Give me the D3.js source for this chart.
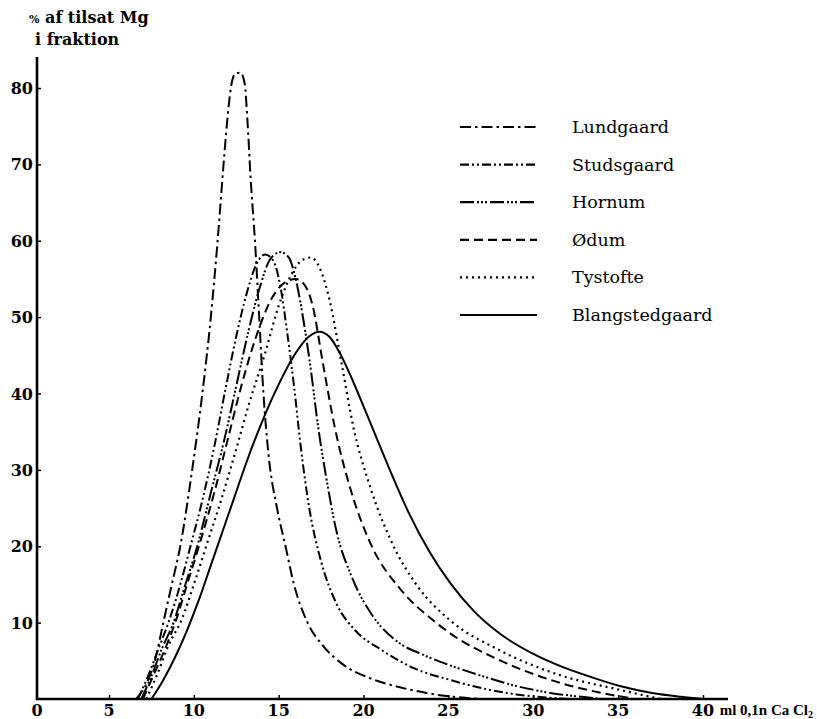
<!DOCTYPE html>
<html><head><meta charset="utf-8">
<script src="https://cdn.jsdelivr.net/npm/d3@7/dist/d3.min.js"></script>
<style>html,body{margin:0;padding:0;background:#fff;}svg{display:block;}</style>
</head><body>
<svg id="c" width="817" height="719"></svg>
<script>
const xTicks = [0,5,10,15,20,25,30,35,40];
const yTicks = [10,20,30,40,50,60,70,80];
const seriesNames = ["Lundgaard","Studsgaard","Hornum","Ødum","Tystofte","Blangstedgaard"];
const lundgaard = [[6.6,0],[7.2,2],[7.7,5],[8.2,10],[8.7,15],[9.2,20],[9.9,30],[10.5,40],[11.0,50],[11.4,60],[11.75,70],[12.0,76.5],[12.2,80.3],[12.45,81.9],[12.75,82],[13.0,80.5],[13.15,76],[13.35,68],[13.6,60],[13.85,50],[14.1,40],[14.4,32],[14.9,25],[15.4,20],[15.9,15],[16.7,10],[17.6,7],[18.8,4.5],[20.3,2.8],[21.5,1.9],[23,1.1],[24.5,0.5],[26,0.15],[27,0]];
const studsgaard = [[6.7,0],[7.3,3],[7.9,6.5],[8.5,10],[9.2,15],[9.8,20],[10.5,26],[11.2,33],[11.9,41],[12.5,47.5],[13.1,53],[13.7,57],[14.2,58.2],[14.7,57.3],[15.1,54],[15.5,48],[15.9,41],[16.3,33],[16.8,25],[17.5,18],[18.4,12.5],[19.5,9],[21,6.5],[23,4],[25.1,2.5],[27,1.4],[29,0.6],[31,0.15],[32,0]];
const hornum = [[6.9,0],[7.5,3],[8.1,6.5],[8.8,10],[9.5,15],[10.2,20],[11.0,27],[11.8,34],[12.5,41],[13.2,48],[13.9,54],[14.5,57.6],[15.1,58.5],[15.6,57.8],[16.0,55],[16.5,49],[16.9,43],[17.3,36],[17.8,29],[18.4,22],[19.3,16],[20.5,11],[22,7.5],[23.5,5.8],[25.1,4.4],[27,3],[29,1.7],[31,0.8],[33,0.25],[34,0]];
const odum = [[7.0,0],[7.6,3],[8.2,6],[8.9,10],[9.6,15],[10.3,20],[11.2,27],[12.0,34],[12.8,41],[13.6,47],[14.6,52.5],[15.4,54.6],[16.0,55],[16.5,54.3],[17.0,51.5],[17.6,44],[18.3,35.6],[19.2,27.7],[20.4,20.4],[22.2,14.3],[24.1,10.3],[25.1,8.6],[28,5.1],[31.6,2.1],[34,0.8],[36,0]];
const tystofte = [[7.2,0],[7.8,3],[8.5,7],[9.3,10.5],[10.0,15],[10.8,20.5],[11.6,26],[12.4,32],[13.3,39],[14.2,45.3],[15.0,51.5],[15.8,55.8],[16.4,57.5],[16.9,57.8],[17.4,56.5],[18.0,52.2],[18.7,44],[19.4,35.6],[20.4,27.7],[21.6,20.8],[23.2,14.7],[25.1,10.3],[28,6.4],[31.6,3.1],[35.1,1.2],[37.5,0]];
const blangstedgaard = [[7.5,0],[8.2,2.5],[8.9,5.5],[9.6,9],[10.3,13],[11.0,17.5],[11.7,22],[12.4,26.5],[13.1,31],[14.0,36.2],[15.0,41.2],[16.0,45.3],[16.8,47.5],[17.4,48.1],[18.0,47.4],[18.6,45.3],[19.3,42],[20.0,38.3],[20.8,34],[21.7,29.2],[22.7,24.2],[23.9,19.2],[25.1,15.2],[26.5,11.5],[28,8.6],[30,5.9],[31.6,4.3],[33.5,2.8],[35.1,1.7],[37,0.8],[38.7,0.3],[40,0]];
const seriesData = [lundgaard,studsgaard,hornum,odum,tystofte,blangstedgaard];
const dashes = ["11,4,2.5,4","9,3,2,3,2,3","14,3,2,2,2,2,2,3","9,5","2,4","none"];

const svg = d3.select("#c");
const x = d3.scaleLinear().domain([0,5,40]).range([37,109,703]);
const y = d3.scaleLinear().domain([0,80]).range([699,88]);
const font = "'DejaVu Serif', 'Liberation Serif', serif";
const font2 = "'Liberation Serif', 'DejaVu Serif', serif";

// axes
svg.append("line").attr("x1",x(0)).attr("x2",x(0)).attr("y1",57).attr("y2",y(0)+1)
  .attr("stroke","#000").attr("stroke-width",2.6);
svg.append("line").attr("x1",x(0)-1).attr("x2",728).attr("y1",y(0)).attr("y2",y(0))
  .attr("stroke","#000").attr("stroke-width",2.4);

const yAxis = d3.axisRight(y).tickValues(yTicks).tickSize(4).tickFormat("");
const gy = svg.append("g").attr("transform",`translate(${x(0)},0)`).call(yAxis);
gy.select(".domain").remove();
gy.selectAll("line").attr("stroke","#000").attr("stroke-width",1.5);
svg.append("g").selectAll("text").data(yTicks).join("text")
  .attr("x",x(0)-4).attr("y",d=>y(d)+6).attr("text-anchor","end")
  .attr("font-family",font).attr("font-size",16).attr("font-weight","bold").text(d=>d);

const xAxis = d3.axisTop(x).tickValues(xTicks.slice(1)).tickSize(4).tickFormat("");
const gx = svg.append("g").attr("transform",`translate(0,${y(0)})`).call(xAxis);
gx.select(".domain").remove();
gx.selectAll("line").attr("stroke","#000").attr("stroke-width",1.5);
svg.append("g").selectAll("text").data(xTicks).join("text")
  .attr("x",d=>x(d)).attr("y",716).attr("text-anchor","middle")
  .attr("font-family",font).attr("font-size",16).attr("font-weight","bold").text(d=>d);

const xl = svg.append("text").attr("x",720).attr("y",715).attr("font-family",font2).attr("font-size",15).attr("font-weight","bold");
xl.append("tspan").text("ml 0,1n Ca Cl");
xl.append("tspan").attr("font-size",10).attr("dy",3).text("2");
const bb = xl.node().getBBox();
if (bb.x + bb.width > 813) xl.attr("x", 720 - (bb.x + bb.width - 813));

// title
const t1 = svg.append("text").attr("x",29).attr("y",23).attr("font-family",font).attr("font-size",16).attr("font-weight","bold");
t1.append("tspan").attr("font-size",11).text("%");
t1.append("tspan").text(" af tilsat Mg");
svg.append("text").attr("x",35).attr("y",45).attr("font-family",font).attr("font-size",16).attr("font-weight","bold").text("i fraktion");

// curves
const line = d3.line().x(d=>x(d[0])).y(d=>y(d[1])).curve(d3.curveMonotoneX);
svg.append("g").selectAll("path").data(seriesData).join("path")
  .attr("d",d=>line(d)).attr("fill","none").attr("stroke","#000")
  .attr("stroke-width",(d,i)=>i===4?2.2:2)
  .attr("stroke-dasharray",(d,i)=>dashes[i]==="none"?null:dashes[i]);

// legend
const lg = svg.append("g");
const legY = d3.scalePoint().domain(seriesNames).range([127,315]);
seriesNames.forEach((n,i)=>{
  lg.append("line").attr("x1",460).attr("x2",537).attr("y1",legY(n)).attr("y2",legY(n))
    .attr("stroke","#000").attr("stroke-width",2.2)
    .attr("stroke-dasharray",dashes[i]==="none"?null:dashes[i]);
  lg.append("text").attr("x",572).attr("y",legY(n)+6).attr("font-family",font)
    .attr("font-size",17.5).text(n);
});
</script>
</body></html>
